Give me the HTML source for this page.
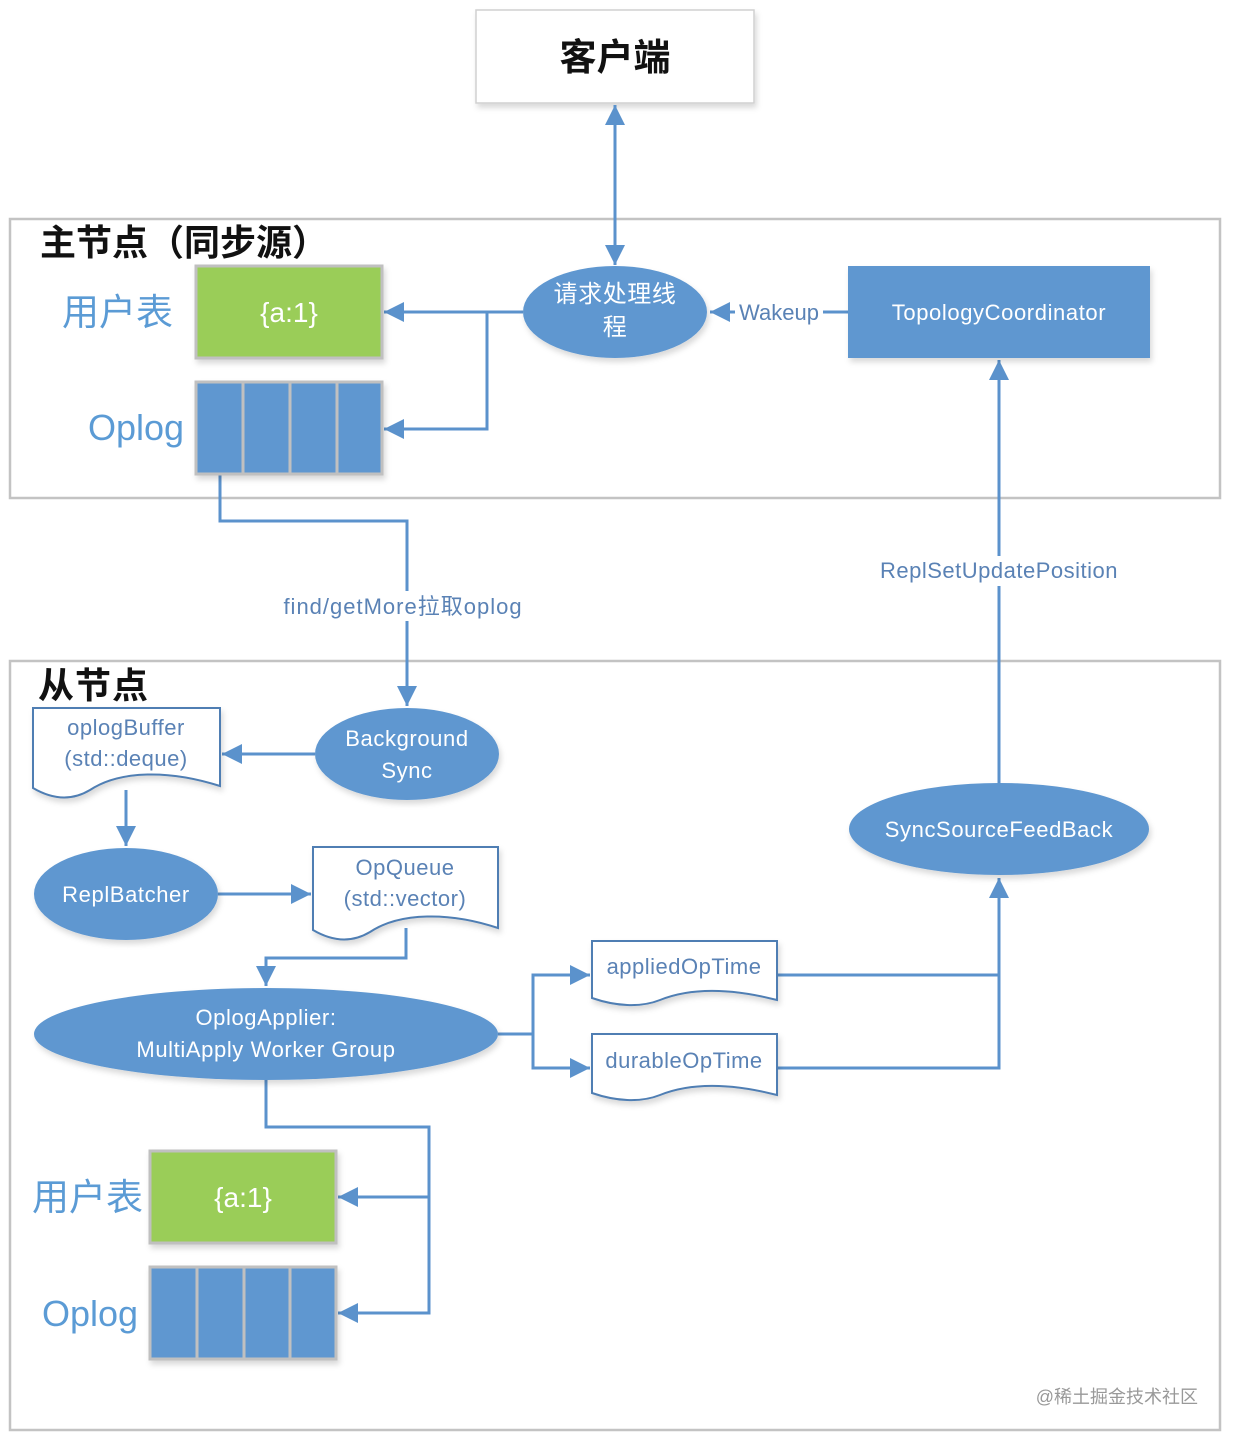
<!DOCTYPE html>
<html><head><meta charset="utf-8"><style>
html,body{margin:0;padding:0;background:#fff}
svg{display:block}
text{font-family:"Liberation Sans","Noto Sans CJK SC",sans-serif}
</style></head><body>
<svg width="1234" height="1442" viewBox="0 0 1234 1442" xmlns="http://www.w3.org/2000/svg">
<defs>
<marker id="A" viewBox="0 0 20 20" refX="20" refY="10" markerWidth="20" markerHeight="20" orient="auto-start-reverse" markerUnits="userSpaceOnUse">
<path d="M0,0 L20,10 L0,20 Z" fill="#5b92cc"/></marker>
<filter id="sh" x="-10%" y="-10%" width="130%" height="140%"><feDropShadow dx="2" dy="4" stdDeviation="3" flood-color="#000" flood-opacity="0.15"/></filter>
</defs>

<rect x="10" y="219" width="1210" height="279" fill="none" stroke="#c3c3c3" stroke-width="2.5"/>
<rect x="10" y="661" width="1210" height="769" fill="none" stroke="#c3c3c3" stroke-width="2.5"/>

<rect x="476" y="10" width="278" height="93" fill="#fff" stroke="#d0d0d0" stroke-width="1.5" filter="url(#sh)"/>
<text x="615" y="70" font-size="37" font-weight="bold" text-anchor="middle" fill="#111">客户端</text>

<g stroke="#5b92cc" stroke-width="3" fill="none">
<line x1="615" y1="105" x2="615" y2="265" marker-start="url(#A)" marker-end="url(#A)"/>
<line x1="523" y1="312" x2="384" y2="312" marker-end="url(#A)"/>
<polyline points="487,312 487,429 384,429" marker-end="url(#A)"/>
<line x1="848" y1="312" x2="710" y2="312" marker-end="url(#A)"/>
<line x1="999" y1="783" x2="999" y2="360" marker-end="url(#A)"/>
<polyline points="220,474 220,521 407,521 407,706" marker-end="url(#A)"/>
<line x1="315" y1="754" x2="222" y2="754" marker-end="url(#A)"/>
<line x1="126" y1="790" x2="126" y2="846" marker-end="url(#A)"/>
<line x1="218" y1="894" x2="311" y2="894" marker-end="url(#A)"/>
<polyline points="406,928 406,958 266,958 266,986" marker-end="url(#A)"/>
<polyline points="498,1034 533,1034 533,975 590,975" marker-end="url(#A)"/>
<polyline points="533,1034 533,1068 590,1068" marker-end="url(#A)"/>
<polyline points="777,975 999,975"/>
<polyline points="777,1068 999,1068 999,878" marker-end="url(#A)"/>
<polyline points="266,1080 266,1127 429,1127 429,1313 338,1313" marker-end="url(#A)"/>
<line x1="429" y1="1197" x2="338" y2="1197" marker-end="url(#A)"/>
</g>

<text x="40" y="255" font-size="36" font-weight="bold" fill="#111">主节点（同步源）</text>
<text x="38" y="698" font-size="36" font-weight="bold" fill="#111" letter-spacing="1">从节点</text>

<text x="62" y="325" font-size="37" fill="#5b9bd5">用户表</text>
<text x="88" y="440" font-size="36" fill="#5b9bd5">Oplog</text>
<text x="32" y="1210" font-size="37" fill="#5b9bd5">用户表</text>
<text x="42" y="1326" font-size="36" fill="#5b9bd5">Oplog</text>

<rect x="196" y="266" width="186" height="92" fill="#9acd58" stroke="#c0c0c0" stroke-width="3" filter="url(#sh)"/>
<text x="289" y="322" font-size="28" fill="#fff" text-anchor="middle">{a:1}</text>
<g filter="url(#sh)">
<rect x="196" y="382" width="186" height="92" fill="#5f97d0" stroke="#c0c0c0" stroke-width="3"/>
<line x1="243" y1="382" x2="243" y2="474" stroke="#c0c0c0" stroke-width="3"/>
<line x1="290" y1="382" x2="290" y2="474" stroke="#c0c0c0" stroke-width="3"/>
<line x1="337" y1="382" x2="337" y2="474" stroke="#c0c0c0" stroke-width="3"/>
</g>

<rect x="150" y="1151" width="186" height="92" fill="#9acd58" stroke="#c0c0c0" stroke-width="3" filter="url(#sh)"/>
<text x="243" y="1207" font-size="28" fill="#fff" text-anchor="middle">{a:1}</text>
<g filter="url(#sh)">
<rect x="150" y="1267" width="186" height="92" fill="#5f97d0" stroke="#c0c0c0" stroke-width="3"/>
<line x1="197" y1="1267" x2="197" y2="1359" stroke="#c0c0c0" stroke-width="3"/>
<line x1="244" y1="1267" x2="244" y2="1359" stroke="#c0c0c0" stroke-width="3"/>
<line x1="290" y1="1267" x2="290" y2="1359" stroke="#c0c0c0" stroke-width="3"/>
</g>

<g fill="#5f97d0" filter="url(#sh)">
<ellipse cx="615" cy="312" rx="92" ry="46"/>
<ellipse cx="407" cy="754" rx="92" ry="46"/>
<ellipse cx="126" cy="894" rx="92" ry="46"/>
<ellipse cx="266" cy="1034" rx="232" ry="46"/>
<ellipse cx="999" cy="829" rx="150" ry="46"/>
<rect x="848" y="266" width="302" height="92"/>
</g>
<g fill="#fff" font-size="22" text-anchor="middle" letter-spacing="0.6">
<text x="615" y="302" font-size="24">请求处理线</text>
<text x="615" y="335" font-size="24">程</text>
<text x="999" y="320">TopologyCoordinator</text>
<text x="407" y="746">Background</text>
<text x="407" y="778">Sync</text>
<text x="126" y="902">ReplBatcher</text>
<text x="266" y="1025">OplogApplier:</text>
<text x="266" y="1057">MultiApply Worker Group</text>
<text x="999" y="837">SyncSourceFeedBack</text>
</g>

<g fill="#fff" stroke="#4f7eb3" stroke-width="2" filter="url(#sh)">
<path d="M33,708 H220 V786 C170,770 120,770 90,790 C70,802 50,798 33,788 Z"/>
<path d="M313,847 H498 V928 C450,912 400,912 370,932 C350,944 330,940 313,930 Z"/>
<path d="M592,941 H777 V1000 C730,988 690,988 660,1000 C640,1008 615,1006 592,998 Z"/>
<path d="M592,1034 H777 V1095 C730,1083 690,1083 660,1095 C640,1103 615,1101 592,1093 Z"/>
</g>
<g fill="#5a82b5" font-size="22" text-anchor="middle" letter-spacing="0.5">
<text x="126" y="735">oplogBuffer</text>
<text x="126" y="766">(std::deque)</text>
<text x="405" y="875">OpQueue</text>
<text x="405" y="906">(std::vector)</text>
<text x="684" y="974">appliedOpTime</text>
<text x="684" y="1068">durableOpTime</text>
</g>

<rect x="735" y="298" width="88" height="28" fill="#fff"/>
<text x="779" y="320" font-size="22" fill="#5a82b5" text-anchor="middle">Wakeup</text>
<rect x="875" y="556" width="248" height="30" fill="#fff"/>
<text x="999" y="578" font-size="22" fill="#5a82b5" text-anchor="middle" letter-spacing="0.5">ReplSetUpdatePosition</text>
<rect x="272" y="591" width="262" height="30" fill="#fff"/>
<text x="403" y="614" font-size="22" fill="#5a82b5" text-anchor="middle" letter-spacing="1">find/getMore拉取oplog</text>

<text x="1198" y="1403" font-size="18" fill="#999" text-anchor="end">@稀土掘金技术社区</text>
</svg>
</body></html>
